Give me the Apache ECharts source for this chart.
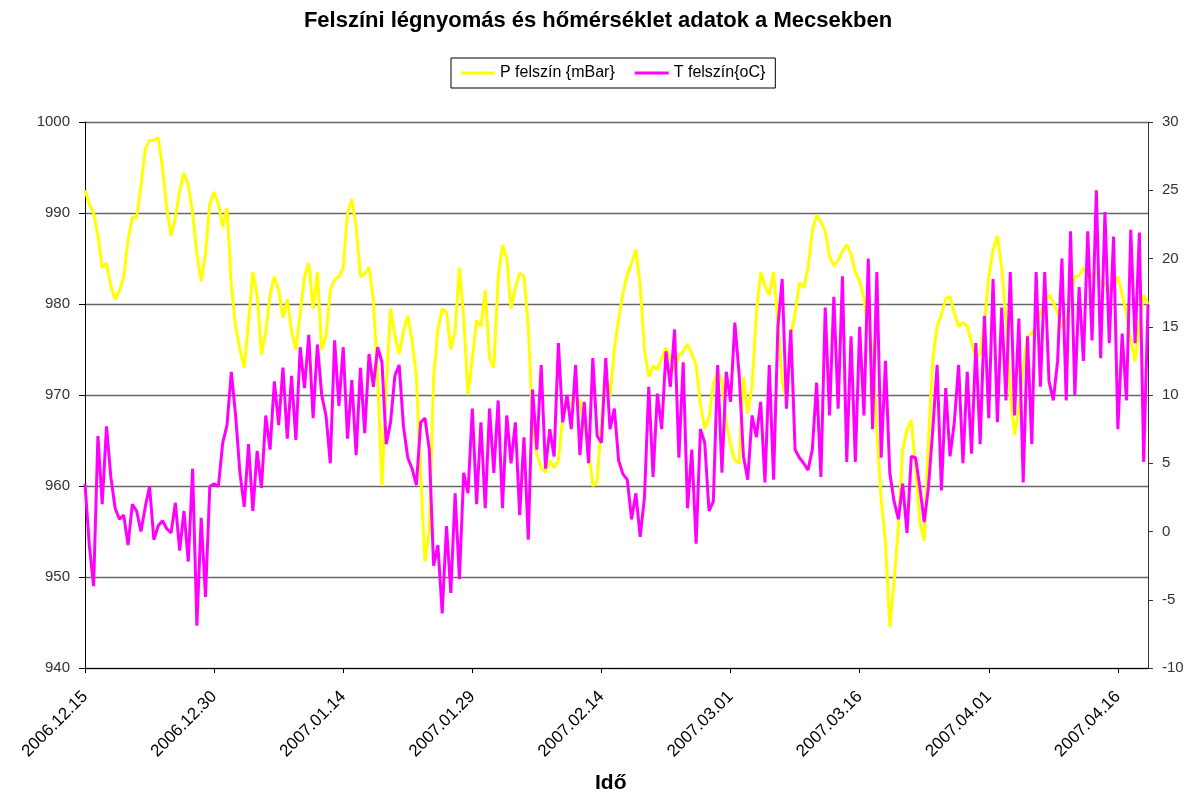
<!DOCTYPE html>
<html>
<head>
<meta charset="utf-8">
<title>Felszíni légnyomás és hőmérséklet adatok a Mecsekben</title>
<script src="https://cdn.jsdelivr.net/npm/echarts@6/dist/echarts.min.js"></script>
<style>
  html, body { margin: 0; padding: 0; background: #fff; }
  #chart { width: 1196px; height: 800px; }
</style>
</head>
<body>
<div id="chart"></div>
<script>
// Tick labels on the time axis (one every 30 samples, ~2 samples per day)
const tickLabels = ['2006.12.15', '2006.12.30', '2007.01.14', '2007.01.29', '2007.02.14',
    '2007.03.01', '2007.03.16', '2007.04.01', '2007.04.16'];
const samplesPerTick = 30;

// Surface pressure, mBar
const pressure = [
    992.5, 991, 990, 987.5, 984, 984.5, 982, 980.5, 981.5, 983,
    987, 989.5, 989.5, 993, 997, 998, 998, 998.3, 995, 990.5,
    987.5, 989.5, 992.5, 994.4, 993, 990, 985.5, 982.5, 985.5, 991,
    992.3, 991, 988.5, 990.5, 982, 977.5, 975, 973, 978, 983.5,
    981, 974.5, 977, 981, 983, 981.5, 978.5, 980.5, 977, 975,
    979, 983, 984.5, 979.5, 983.5, 975, 976.5, 981.5, 982.7, 983,
    984, 990, 991.5, 988.5, 983, 983.3, 984, 980.5, 972, 960,
    971, 979.5, 976.5, 974.5, 977, 978.7, 976, 972, 961, 951.7,
    955, 972, 977.2, 979.5, 979.1, 975, 977, 984, 978.5, 970,
    974, 978.2, 977.5, 981.5, 974, 973, 983, 986.5, 985, 979.5,
    981.8, 983.4, 983, 977.5, 967, 963.5, 962, 961.5, 962.8, 962,
    962.8, 967.5, 969.3, 969, 969.8, 969.3, 966.6, 964, 960, 960.5,
    967, 972.5, 969.8, 975, 978.4, 981.2, 983.2, 984.5, 986, 982,
    975, 972, 973.2, 972.8, 974, 975.2, 974, 972.6, 974.3, 974.8,
    975.6, 974.5, 973.3, 969, 966.3, 967.5, 971.2, 972.6, 971.5, 967,
    964.5, 962.8, 962.5, 972, 968, 971, 979, 983.5, 982, 981,
    983.5, 978, 971.5, 969.5, 976.4, 979, 982.3, 981.8, 984, 988,
    989.8, 989, 988, 985.2, 984.2, 984.8, 985.8, 986.5, 985.5, 983.5,
    982.5, 980.6, 977, 975.5, 965.8, 958.5, 953.8, 944.5, 949.5, 955.5,
    964, 966.2, 967.2, 962, 956, 954, 965, 974, 977.6, 978.8,
    980.6, 980.8, 979, 977.5, 978, 977.5, 975.8, 974, 974.5, 978,
    983, 986, 987.5, 984, 978.5, 970, 965.6, 968.5, 973, 976.4,
    976.8, 977.5, 979, 980.2, 981, 980.2, 979, 977.3, 977.8, 981,
    983, 983.1, 984, 983, 983, 983.6, 982.4, 982.3, 981.7, 981.9,
    983, 981, 979, 976, 973.7, 978, 981, 980
];

// Surface temperature, oC
const temperature = [
    3.5, -1, -4, 7, 2, 7.7, 4, 1.7, 0.9, 1.2,
    -1, 2, 1.5, 0, 1.8, 3.3, -0.6, 0.4, 0.8, 0.2,
    -0.1, 2.1, -1.4, 1.5, -2.2, 4.6, -6.9, 1, -4.8, 3.3,
    3.5, 3.3, 6.5, 7.8, 11.7, 8.5, 4.3, 1.8, 6.4, 1.5,
    5.9, 3.2, 8.5, 6, 11, 7.8, 12, 6.8, 11.4, 6.7,
    13.5, 10.5, 14.4, 8.3, 13.7, 10, 8.5, 5, 14, 9.2,
    13.5, 6.8, 11.1, 5.6, 12, 7.2, 13, 10.6, 13.5, 12.4,
    6.4, 8, 11.4, 12.2, 7.7, 5.4, 4.6, 3.4, 8, 8.3,
    6, -2.5, -1, -6, 0.4, -4.5, 2.8, -3.5, 4.3, 2.8,
    9, 2, 8, 1.7, 9, 4.3, 9.6, 1.7, 8.5, 5,
    8, 1.2, 6.9, -0.6, 10.4, 6, 12.2, 4.6, 7.5, 5.5,
    13.8, 8, 10, 7.5, 12.2, 5.6, 9.5, 5, 12.7, 7,
    6.5, 12.7, 7.5, 9, 5.2, 4.2, 3.8, 0.9, 2.8, -0.4,
    2.5, 10.6, 4, 10.1, 7.5, 13.2, 10.6, 14.8, 5.4, 12.4,
    1.7, 6, -0.9, 7.5, 6.5, 1.5, 2.2, 12.2, 4.3, 11.7,
    9.5, 15.3, 11.5, 5.5, 3.8, 8.5, 6.9, 9.5, 3.6, 12.2,
    3.8, 15, 18.5, 9, 14.8, 6, 5.4, 5, 4.5, 6,
    10.9, 4, 16.4, 8.5, 17.2, 9, 18.7, 5.1, 14.3, 5.1,
    15, 8.5, 20, 7.5, 19, 5.4, 12.5, 4.3, 2.2, 0.9,
    3.5, -0.1, 5.5, 5.4, 3.2, 0.7, 3.3, 7.5, 12.2, 3,
    10.5, 5.5, 8, 12.2, 5, 11.7, 5.7, 13.8, 6.4, 15.8,
    8.3, 18.5, 8, 16.4, 9.6, 19, 8.5, 15.6, 3.6, 14.3,
    6.4, 19, 10.6, 19, 11, 9.6, 12.5, 20, 9.6, 22,
    10, 17.9, 12.5, 22, 14, 25, 12.7, 23.4, 13.8, 21.6,
    7.5, 14.5, 9.6, 22.1, 13.8, 21.9, 5.1, 16.6
];

const FONT = 'Arial, "Liberation Sans", sans-serif';

// one category per sample, labels only where a tick falls
const categories = pressure.map((_, i) => String(i));

function showTick(index) {
    return index % samplesPerTick === 0;
}

const chart = echarts.init(document.getElementById('chart'), null, { renderer: 'canvas' });

const option = {
    backgroundColor: '#ffffff',
    animation: false,
    title: [
        {
            text: 'Felszíni légnyomás és hőmérséklet adatok a Mecsekben',
            left: 'center',
            top: 5,
            textStyle: { fontFamily: FONT, fontSize: 22, fontWeight: 'bold', color: '#000' }
        },
        {
            text: 'Idő',
            left: 590,
            top: 768,
            textStyle: { fontFamily: FONT, fontSize: 21, fontWeight: 'bold', color: '#000' }
        }
    ],
    legend: {
        left: 451,
        top: 58,
        padding: [7, 10],
        itemGap: 20,
        icon: 'rect',
        itemWidth: 34,
        itemHeight: 3,
        borderColor: '#000',
        borderWidth: 1,
        textStyle: { fontFamily: FONT, fontSize: 16, color: '#000' },
        data: ['P felszín {mBar}', 'T felszín{oC}']
    },
    grid: { left: 85, right: 48, top: 122, bottom: 132 },
    xAxis: {
        type: 'category',
        boundaryGap: false,
        data: categories,
        axisLine: { onZero: false, lineStyle: { color: '#000', width: 1 } },
        axisTick: { interval: showTick, length: 5, lineStyle: { color: '#000' } },
        axisLabel: {
            interval: showTick,
            rotate: 45,
            margin: 26,
            fontFamily: FONT,
            fontSize: 17,
            color: '#000',
            formatter: (value, index) => showTick(index) ? tickLabels[index / samplesPerTick] : ''
        },
        splitLine: { show: false }
    },
    yAxis: [
        {
            type: 'value',
            min: 940,
            max: 1000,
            interval: 10,
            position: 'left',
            axisLine: { show: true, lineStyle: { color: '#000', width: 1 } },
            axisTick: { show: true, length: 6, lineStyle: { color: '#000' } },
            axisLabel: { margin: 15, fontFamily: FONT, fontSize: 15, color: '#333', formatter: v => String(v) },
            splitLine: { show: true, lineStyle: { color: '#666', width: 1.3 } }
        },
        {
            type: 'value',
            min: -10,
            max: 30,
            interval: 5,
            position: 'right',
            axisLine: { show: true, lineStyle: { color: '#333', width: 1 } },
            axisTick: { show: true, length: 5, lineStyle: { color: '#333' } },
            axisLabel: { margin: 14, fontFamily: FONT, fontSize: 15, color: '#333' },
            splitLine: { show: false }
        }
    ],
    series: [
        {
            name: 'P felszín {mBar}',
            type: 'line',
            yAxisIndex: 0,
            data: pressure,
            symbol: 'none',
            color: '#ffff00',
            lineStyle: { color: '#ffff00', width: 3 }
        },
        {
            name: 'T felszín{oC}',
            type: 'line',
            yAxisIndex: 1,
            data: temperature,
            symbol: 'none',
            color: '#ff00ff',
            lineStyle: { color: '#ff00ff', width: 3 }
        }
    ]
};

chart.setOption(option);
</script>
</body>
</html>
